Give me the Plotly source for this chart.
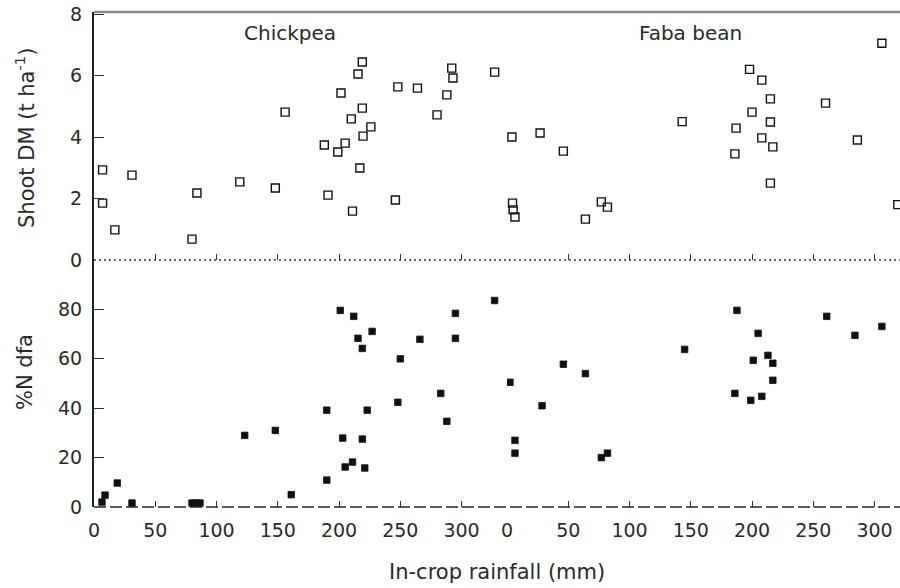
import plotly.graph_objects as go

# ---------------- data ----------------
# Shoot DM (t/ha) vs in-crop rainfall (mm)
chick_dm_rain = [7, 7, 17, 31, 80, 84, 119, 148, 156, 188, 191, 199, 201.6, 205, 210,
                 211, 215.5, 217, 219, 219, 219.6, 226, 246, 248, 264, 280, 288, 292, 293, 327]
chick_dm = [2.93, 1.85, 0.98, 2.76, 0.68, 2.18, 2.54, 2.34, 4.81, 3.74, 2.11, 3.51, 5.43, 3.80, 4.59,
            1.59, 6.05, 2.99, 6.44, 4.94, 4.03, 4.33, 1.95, 5.63, 5.59, 4.72, 5.37, 6.24, 5.92, 6.11]

faba_dm_rain = [4, 27, 46, 4.5, 5, 6.5, 64, 77, 82, 143, 186, 187, 198, 200, 208, 208,
                215, 215, 215, 217, 260, 286, 306, 319]
faba_dm = [4.00, 4.13, 3.54, 1.85, 1.63, 1.40, 1.33, 1.89, 1.72, 4.50, 3.45, 4.29, 6.20, 4.81, 5.85, 3.97,
           5.24, 4.49, 2.50, 3.68, 5.10, 3.90, 7.05, 1.80]

# %N dfa vs in-crop rainfall (mm)
chick_n_rain = [6.5, 9, 19, 31, 80, 83, 86.5, 123, 148, 161, 190, 190, 201, 203, 205, 211, 212,
                215.5, 219, 219, 221, 223, 227, 248, 250, 266, 283, 288, 295, 295, 327]
chick_n = [2.0, 4.8, 9.7, 1.6, 1.6, 1.6, 1.6, 29.0, 31.0, 5.0, 10.9, 39.2, 79.6, 27.9, 16.2, 18.2, 77.2,
           68.3, 64.2, 27.5, 15.8, 39.2, 71.1, 42.4, 60.0, 67.9, 46.0, 34.7, 78.4, 68.3, 83.6]

faba_n_rain = [2.4, 6.5, 6.5, 28.6, 46, 64, 77, 82, 145, 186, 187.7, 199, 201, 205, 208,
               213, 217, 217, 261, 284, 306]
faba_n = [50.5, 27.0, 21.8, 41.0, 57.8, 54.0, 20.0, 21.8, 63.8, 46.0, 79.6, 43.2, 59.4, 70.3, 44.8,
          61.4, 58.2, 51.3, 77.2, 69.5, 73.1]

x_ticks = [0, 50, 100, 150, 200, 250, 300]
dm_ticks = [0, 2, 4, 6, 8]
n_ticks = [0, 20, 40, 60, 80]

crop_labels = ["Chickpea", "Faba bean"]

# ---------------- figure ----------------
FONT = "DejaVu Sans"
TXT = "#2a2a2a"
W, H = 900, 588
ML, MR, MT, MB = 94, 0, 12, 81
PW, PH = W - ML - MR, H - MT - MB
split = 413 / PW
ydiv = 247 / PH


def px_x(x):
    return (x - ML) / PW


def px_y(y):
    return (H - MB - y) / PH


open_marker = dict(symbol="square-open", size=8, color="#111", line=dict(width=1.4, color="#111"))
fill_marker = dict(symbol="square", size=6.5, color="#111", line=dict(width=0.8, color="#111"))

fig = go.Figure()
fig.add_trace(go.Scatter(x=chick_dm_rain, y=chick_dm, mode="markers", marker=open_marker,
                         xaxis="x3", yaxis="y2", showlegend=False))
fig.add_trace(go.Scatter(x=faba_dm_rain, y=faba_dm, mode="markers", marker=open_marker,
                         xaxis="x4", yaxis="y2", showlegend=False))
fig.add_trace(go.Scatter(x=chick_n_rain, y=chick_n, mode="markers", marker=fill_marker,
                         xaxis="x", yaxis="y", showlegend=False))
fig.add_trace(go.Scatter(x=faba_n_rain, y=faba_n, mode="markers", marker=fill_marker,
                         xaxis="x2", yaxis="y", showlegend=False))

xcommon = dict(showgrid=False, zeroline=False, showline=False, ticks="inside", ticklen=6,
               tickwidth=1.2, tickcolor="#333", tickvals=x_ticks, fixedrange=True,
               tickfont=dict(family=FONT, size=19, color=TXT))
ycommon = dict(showgrid=False, zeroline=False, showline=True, linecolor="#222", linewidth=2,
               ticks="inside", ticklen=10, tickwidth=1.2, tickcolor="#333", fixedrange=True,
               tickfont=dict(family=FONT, size=19, color=TXT), ticklabelstandoff=6)

ann_font = dict(family=FONT, size=20, color=TXT)
title_font = dict(family=FONT, size=21, color=TXT)

fig.update_layout(
    width=W, height=H,
    margin=dict(l=ML, r=MR, t=MT, b=MB),
    paper_bgcolor="white", plot_bgcolor="white",
    xaxis=dict(xcommon, domain=[0, split], range=[0, 337.1], anchor="y", ticklabelstandoff=10),
    xaxis2=dict(xcommon, domain=[split, 1], range=[0, 320.8], anchor="y", ticklabelstandoff=10),
    xaxis3=dict(xcommon, domain=[0, split], range=[0, 337.1], anchor="y2", showticklabels=False),
    xaxis4=dict(xcommon, domain=[split, 1], range=[0, 320.8], anchor="y2", showticklabels=False),
    yaxis=dict(ycommon, domain=[0, ydiv], range=[0, 100], tickvals=n_ticks, anchor="x"),
    yaxis2=dict(ycommon, domain=[ydiv, 1], range=[0, 8.065], tickvals=dm_ticks, anchor="x3"),
    shapes=[
        dict(type="line", xref="paper", yref="paper", x0=0, x1=1, y0=0, y1=0,
             line=dict(color="#222", width=1.6, dash="12px,4px")),
        dict(type="line", xref="paper", yref="paper", x0=0, x1=1, y0=ydiv, y1=ydiv,
             line=dict(color="#333", width=1.5, dash="2px,3px")),
        dict(type="line", xref="paper", yref="paper", x0=0, x1=1, y0=1, y1=1,
             line=dict(color="#8a8a8a", width=2.5)),
    ],
    annotations=[
        dict(text=crop_labels[0], x=px_x(290), y=px_y(33), xref="paper", yref="paper",
             showarrow=False, xanchor="center", yanchor="middle", font=ann_font),
        dict(text=crop_labels[1], x=px_x(690), y=px_y(33), xref="paper", yref="paper",
             showarrow=False, xanchor="center", yanchor="middle", font=ann_font),
        dict(text="In-crop rainfall (mm)", x=px_x(497), y=px_y(572), xref="paper", yref="paper",
             showarrow=False, xanchor="center", yanchor="middle", font=title_font),
        dict(text="Shoot DM (t ha<sup>-1</sup>)", x=px_x(25), y=px_y(138), textangle=-90,
             xref="paper", yref="paper", showarrow=False, xanchor="center", yanchor="middle",
             font=title_font),
        dict(text="%N dfa", x=px_x(25), y=px_y(372), textangle=-90,
             xref="paper", yref="paper", showarrow=False, xanchor="center", yanchor="middle",
             font=title_font),
    ],
)

fig.write_html("out.html", config={"displayModeBar": False},
               post_script="document.body.style.margin='0';")
